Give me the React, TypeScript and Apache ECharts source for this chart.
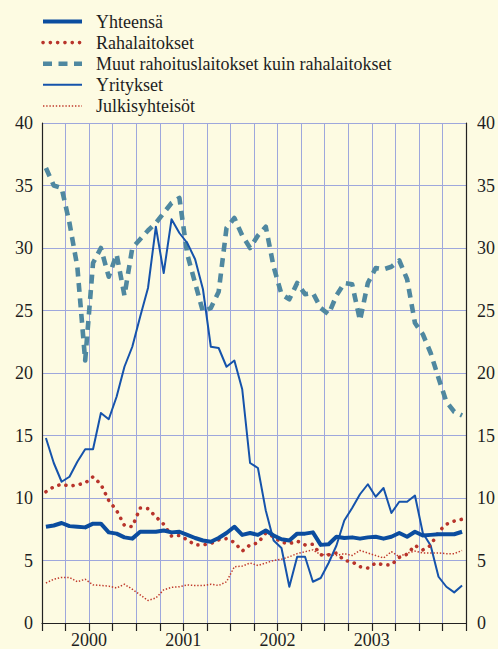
import React, { useEffect, useRef } from "react";
import * as echarts from "echarts";

const seriesNames = [
  "Yhteensä",
  "Rahalaitokset",
  "Muut rahoituslaitokset kuin rahalaitokset",
  "Yritykset",
  "Julkisyhteisöt",
];

const yearLabels: Record<number, string> = { 6: "2000", 18: "2001", 30: "2002", 42: "2003" };

const yhteensa = [7.7, 7.8, 8.0, 7.75, 7.7, 7.65, 7.95, 7.95, 7.25, 7.15, 6.85, 6.75, 7.3, 7.3, 7.3, 7.4, 7.25, 7.3, 7.05, 6.8, 6.6, 6.5, 6.8, 7.2, 7.7, 7.05, 7.2, 7.05, 7.4, 7.0, 6.7, 6.6, 7.15, 7.15, 7.25, 6.25, 6.3, 6.9, 6.8, 6.85, 6.75, 6.85, 6.9, 6.75, 6.9, 7.2, 6.9, 7.3, 7.0, 7.05, 7.1, 7.1, 7.1, 7.3];

const rahalaitokset = [10.5, 10.9, 11.1, 10.95, 11.05, 11.2, 11.7, 11.1, 9.8, 9.0, 7.8, 7.7, 9.2, 9.15, 8.5, 7.9, 6.95, 7.0, 6.65, 6.25, 6.25, 6.35, 6.65, 6.75, 6.45, 5.75, 6.25, 6.4, 7.2, 6.9, 6.45, 6.35, 6.55, 6.25, 6.3, 5.45, 5.45, 5.6, 5.0, 4.9, 4.5, 4.4, 4.8, 4.65, 4.65, 5.25, 5.5, 6.2, 5.85, 6.2, 7.3, 7.9, 8.15, 8.3];

const muut = [36.4, 35.0, 34.8, 32.0, 28.5, 21.0, 28.8, 30.0, 27.7, 29.5, 26.2, 30.0, 30.7, 31.4, 32.0, 32.8, 33.6, 34.0, 29.5, 27.2, 24.9, 25.2, 26.5, 31.6, 32.4, 31.0, 30.0, 31.0, 31.7, 28.5, 26.3, 25.9, 27.2, 26.3, 26.4, 25.2, 24.7, 26.2, 27.2, 27.1, 24.2, 27.2, 28.4, 28.3, 28.5, 29.0, 27.5, 24.0, 23.1, 21.6, 19.6, 17.7, 16.9, 16.6];

const yritykset = [14.8, 12.8, 11.3, 11.7, 12.9, 13.9, 13.9, 16.8, 16.3, 18.1, 20.5, 22.1, 24.5, 26.8, 31.7, 28.0, 32.3, 31.2, 30.4, 29.1, 26.7, 22.1, 22.0, 20.5, 21.0, 18.7, 12.8, 12.4, 9.0, 6.6, 6.0, 2.9, 5.3, 5.3, 3.3, 3.6, 4.8, 6.2, 8.2, 9.2, 10.3, 11.1, 10.1, 10.8, 8.8, 9.7, 9.7, 10.2, 7.2, 6.2, 3.7, 2.9, 2.45, 3.0];

const julkisyhteisot = [3.2, 3.5, 3.65, 3.65, 3.3, 3.5, 3.05, 3.0, 2.95, 2.8, 3.1, 2.7, 2.25, 1.8, 2.0, 2.65, 2.85, 2.9, 3.05, 3.0, 3.0, 3.1, 3.0, 3.3, 4.5, 4.55, 4.8, 4.6, 4.8, 5.0, 5.1, 5.3, 5.55, 5.7, 5.85, 5.45, 5.5, 5.4, 5.55, 5.4, 5.8, 5.6, 5.4, 5.2, 5.7, 5.3, 5.6, 5.75, 5.6, 5.6, 5.6, 5.55, 5.55, 5.8];

const FONT = "Liberation Serif";
const BG = "#fdfbe2";
const GRIDC = "#9ea7dc";
const TXT = "#1e1e1e";

const styles = [
  { color: "#0b4d9f", width: 4, type: "solid" as any, cap: "butt" },
  { color: "#b8342b", width: 3.6, type: [0.1, 7.2] as any, cap: "round" },
  { color: "#4f88a0", width: 4.6, type: [9, 6.5] as any, cap: "butt" },
  { color: "#1553ab", width: 2, type: "solid" as any, cap: "butt" },
  { color: "#c0392b", width: 1.5, type: [1.4, 1.8] as any, cap: "butt" },
];

const toPairs = (arr: number[]) => arr.map((v, i) => [i + 0.5, v]);

export default function App() {
  const ref = useRef<HTMLDivElement>(null);
  useEffect(() => {
    document.body.style.margin = "0";
    const chart = echarts.init(ref.current!, undefined, { renderer: "svg" });
    const dataSets = [yhteensa, rahalaitokset, muut, yritykset, julkisyhteisot];
    const drawOrder = [4, 2, 3, 1, 0];
    const legendGraphics: any[] = [];
    seriesNames.forEach((name, k) => {
      const y = 21.5 + k * 21.1;
      const s = styles[k];
      legendGraphics.push({
        type: "line",
        shape: { x1: 43, y1: y, x2: 82, y2: y },
        style: {
          stroke: s.color,
          lineWidth: s.width,
          lineDash: Array.isArray(s.type) ? s.type : null,
          lineCap: s.cap,
        },
      });
      legendGraphics.push({
        type: "text",
        x: 96,
        y: y,
        style: {
          text: name,
          fontFamily: FONT,
          fontSize: 18,
          fill: TXT,
          verticalAlign: "middle",
          align: "left",
        },
      });
    });
    chart.setOption({
      animation: false,
      backgroundColor: BG,
      textStyle: { fontFamily: FONT },
      grid: { left: 42, right: 32, top: 123, bottom: 25 },
      graphic: legendGraphics,
      xAxis: {
        type: "value",
        min: 0,
        max: 54,
        interval: 3,
        axisLine: { show: true, onZero: false, lineStyle: { color: "#222", width: 1.2 } },
        axisTick: { show: true, inside: false, length: 8, lineStyle: { color: "#222", width: 1.2 } },
        splitLine: { show: true, lineStyle: { color: GRIDC, width: 1 } },
        axisLabel: {
          margin: 8,
          fontFamily: FONT,
          fontSize: 18,
          color: TXT,
          formatter: (v: number) => yearLabels[Math.round(v)] || "",
        },
      },
      yAxis: [
        {
          type: "value",
          min: 0,
          max: 40,
          interval: 5,
          position: "left",
          axisLine: { show: true, lineStyle: { color: "#222", width: 1.2 } },
          axisTick: { show: false },
          splitLine: { show: true, lineStyle: { color: GRIDC, width: 1 } },
          axisLabel: { margin: 9, fontFamily: FONT, fontSize: 18, color: TXT },
        },
        {
          type: "value",
          min: 0,
          max: 40,
          interval: 5,
          position: "right",
          axisLine: { show: true, lineStyle: { color: "#222", width: 1.2 } },
          axisTick: { show: false },
          splitLine: { show: false },
          axisLabel: { margin: 11, fontFamily: FONT, fontSize: 18, color: TXT },
        },
      ],
      series: drawOrder.map((k) => ({
        name: seriesNames[k],
        type: "line",
        yAxisIndex: 0,
        data: toPairs(dataSets[k]),
        symbol: "none",
        silent: true,
        lineStyle: {
          color: styles[k].color,
          width: styles[k].width,
          type: styles[k].type,
          cap: styles[k].cap,
          join: "round",
        },
      })),
    });
    return () => chart.dispose();
  }, []);
  return (
    <div
      ref={ref}
      style={{ position: "fixed", left: 0, top: 0, width: 498, height: 649, background: BG }}
    />
  );
}
